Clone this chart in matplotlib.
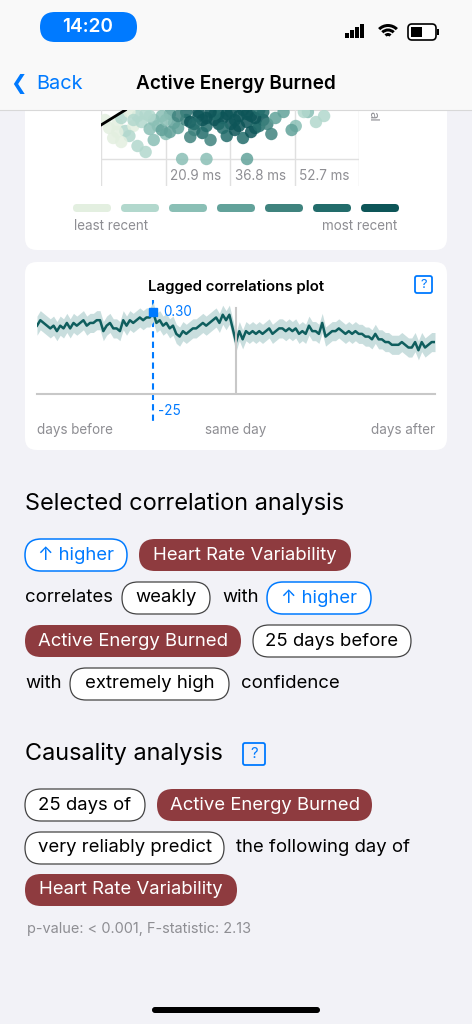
import numpy as np
import matplotlib.pyplot as plt
from matplotlib.patches import FancyBboxPatch, Rectangle, Wedge

plt.rcParams['font.family'] = ['Inter', 'DejaVu Sans']

# lagged correlation values for lags -60..60
lag_vals = [0.25, 0.27, 0.26, 0.25, 0.24, 0.25, 0.23, 0.25, 0.24, 0.26,
            0.24, 0.26, 0.25, 0.26, 0.27, 0.25, 0.26, 0.26, 0.27, 0.27,
            0.23, 0.25, 0.26, 0.24, 0.24, 0.23, 0.27, 0.25, 0.27, 0.26,
            0.27, 0.28, 0.27, 0.28, 0.28,
            0.30,
            0.26, 0.27, 0.25, 0.26, 0.24, 0.25, 0.22, 0.21, 0.23, 0.22,
            0.23, 0.24, 0.24, 0.25, 0.26, 0.25, 0.26, 0.27, 0.28, 0.26,
            0.29, 0.27, 0.29, 0.24,
            0.19,
            0.23, 0.20, 0.23, 0.22, 0.23, 0.22, 0.23, 0.22, 0.23, 0.24,
            0.22, 0.23, 0.24, 0.24, 0.23, 0.24, 0.23, 0.24, 0.22, 0.23,
            0.22, 0.25, 0.23, 0.23, 0.22, 0.26, 0.21, 0.22, 0.23, 0.23,
            0.24, 0.23, 0.22, 0.23, 0.22, 0.23, 0.22, 0.22, 0.21, 0.21,
            0.20, 0.22, 0.20, 0.20, 0.19, 0.19, 0.18, 0.18, 0.18, 0.19,
            0.18, 0.17, 0.17, 0.19, 0.16, 0.19, 0.17, 0.18, 0.19, 0.19]
lags = np.arange(len(lag_vals)) - 60
ci_half = 0.035
sel_lag, sel_val = -25, 0.30

# scatter (HRV ms vs. height), recency index 0..6
sc_x = [7, 9, 11, 13, 8, 12, 15, 17, 10, 14, 19, 21, 16, 23, 18, 20, 24, 26, 22, 27,
        29, 31, 28, 33, 35, 30, 37, 39, 32, 41, 43, 36, 45, 34, 38, 40, 42, 44, 46, 48,
        47, 50, 53, 56, 52, 58, 25, 31, 41, 60, 55,
        6, 10, 14, 18, 22, 26, 30, 34, 38, 42, 29, 33, 37, 41, 45, 27, 31, 35, 39, 43,
        24, 28, 32, 36, 40, 44, 20, 16, 12, 9, 13, 17, 21]
sc_y = [58, 62, 55, 60, 48, 50, 64, 57, 44, 40, 60, 52, 34, 63, 46, 56, 58, 66, 54, 49,
        70, 60, 56, 66, 68, 53, 62, 70, 46, 64, 58, 50, 66, 72, 56, 48, 54, 60, 62, 68,
        52, 74, 60, 74, 56, 64, 27, 27, 27, 70, 74,
        66, 68, 70, 66, 72, 74, 66, 62, 66, 70, 74, 72, 74, 72, 74, 64, 68, 58, 60, 68,
        70, 62, 74, 72, 76, 76, 70, 72, 74, 54, 66, 70, 66]
sc_c = [0, 0, 1, 0, 0, 1, 1, 2, 0, 1, 2, 2, 1, 3, 2, 3, 3, 4, 3, 4,
        5, 5, 4, 6, 6, 5, 6, 6, 4, 6, 5, 5, 6, 6, 6, 5, 6, 5, 4, 3,
        4, 3, 2, 2, 3, 1, 2, 2, 3, 1, 1,
        0, 1, 1, 2, 3, 5, 6, 6, 6, 6, 6, 5, 6, 6, 5, 6, 6, 5, 6, 6,
        4, 5, 6, 6, 6, 5, 2, 1, 0, 0, 1, 1, 2]
sc_ticks = [20.9, 36.8, 52.7]
recency = ['#E3EFE0', '#B2D8CD', '#8ABFB5', '#62A29A', '#3F837E', '#226C6B', '#0D5558']

BLUE = '#007AFF'
RED = '#8E3B3F'
GRAY = '#8E8E93'
TEAL = '#0F5E5E'

fig = plt.figure(figsize=(4.72, 10.24), dpi=100)
fig.patch.set_facecolor('#F2F2F7')
ax = fig.add_axes([0, 0, 1, 1])
ax.set_xlim(0, 472)
ax.set_ylim(1024, 0)
ax.axis('off')


def rbox(x0, y0, x1, y1, r, fc, ec='none', lw=1.0, z=1):
    ax.add_patch(FancyBboxPatch((x0, y0), x1 - x0, y1 - y0,
                                boxstyle=f'round,pad=0,rounding_size={r}',
                                fc=fc, ec=ec, lw=lw, zorder=z))


def px(s):
    return s * 0.72


# cards
rbox(25, 60, 447, 250, 12, 'white')
rbox(25, 262, 447, 450, 12, 'white')

# nav bar and status bar
ax.add_patch(Rectangle((0, 0), 472, 110, fc='#F9F9F9', ec='none', zorder=5))
ax.plot([0, 472], [110, 110], color='#D8D8D8', lw=0.8, zorder=6)
rbox(40, 12, 137, 42, 15, BLUE, z=6)
ax.text(88, 27, '14:20', color='white', fontsize=px(19), ha='center', va='center',
        fontweight='semibold', zorder=7)
for i, h in enumerate([5, 8, 11, 14]):
    ax.add_patch(Rectangle((345 + i * 5, 38 - h), 3.5, h, fc='black', zorder=7))
for r in [14, 9.5, 5]:
    ax.add_patch(Wedge((388, 38), r, 225, 315, width=3, fc='black', zorder=7))
rbox(408, 24, 436, 40, 4, 'white', ec='black', lw=1.2, z=7)
ax.add_patch(Rectangle((411, 27), 11, 10, fc='black', zorder=8))
ax.add_patch(Rectangle((437, 29), 2, 6, fc='black', zorder=8))
ax.text(10, 84, '\u276e', color=BLUE, fontsize=px(20), va='center', zorder=7)
ax.text(36, 84, 'Back', color=BLUE, fontsize=px(20), va='center', zorder=7)
ax.text(236, 84, 'Active Energy Burned', fontsize=px(19), ha='center', va='center',
        fontweight='semibold', zorder=7)

# scatter inset
sax = fig.add_axes([101 / 472, 1 - 186 / 1024, 258 / 472, 76 / 1024])
sax.set_xlim(5.0, 68.6)
sax.set_ylim(0, 76)
sax.axis('off')
for xv in [5.0] + sc_ticks + [68.6]:
    sax.axvline(xv, color='#E0E0E0', lw=1, zorder=0)
sax.axhline(27, color='#E0E0E0', lw=1, zorder=0)
sax.scatter(sc_x, sc_y, c=[recency[i] for i in sc_c], s=80, alpha=0.85, lw=0, zorder=2)
sax.plot([5.0, 11.0], [61, 76], color='black', lw=2, zorder=3)
for t in sc_ticks:
    sax.text(t + 1.2, 10, f'{t} ms', color=GRAY, fontsize=px(13.5), va='center')
ax.text(372, 116, 'al', color=GRAY, fontsize=px(13), rotation=-90, ha='center', va='center')

# recency legend
for i, c in enumerate(recency):
    cx = 92 + i * 48
    rbox(cx - 19, 204, cx + 19, 212, 4, c, z=2)
ax.text(74, 226, 'least recent', color=GRAY, fontsize=px(13.5), va='center')
ax.text(397, 226, 'most recent', color=GRAY, fontsize=px(13.5), va='center', ha='right')

# lagged correlations plot
ax.text(236, 287, 'Lagged correlations plot', fontsize=px(15), ha='center', va='center',
        fontweight='semibold')
rbox(415, 276, 432, 293, 2, 'none', ec=BLUE, lw=1.3)
ax.text(423.5, 284.5, '?', color=BLUE, fontsize=px(13), ha='center', va='center')
lax = fig.add_axes([37 / 472, 1 - 394 / 1024, 398 / 472, 94 / 1024])
lax.set_xlim(-60, 60)
lax.set_ylim(0, 94 * 0.30 / 82)
lax.axis('off')
lv = np.array(lag_vals)
lax.fill_between(lags, lv - ci_half, lv + ci_half, color='#C9DEDE', lw=0)
lax.plot(lags, lv, color=TEAL, lw=1.8)
lax.axvline(0, ymax=0.92, color='#C8C8C8', lw=1.5)
lax.axhline(0, color='#C8C8C8', lw=1.5, clip_on=False)
lax.plot([sel_lag], [sel_val], marker='s', color=BLUE, ms=6)
lax.text(sel_lag + 3, sel_val, f'{sel_val:.2f}', color=BLUE, fontsize=px(13.5), va='center')
ax.plot([153, 153], [300, 422], color=BLUE, lw=1.5, ls=(0, (3, 2)))
ax.text(158, 411, f'{sel_lag}', color=BLUE, fontsize=px(13.5), va='center')
ax.text(37, 430, 'days before', color=GRAY, fontsize=px(13.5), va='center')
ax.text(236, 430, 'same day', color=GRAY, fontsize=px(13.5), va='center', ha='center')
ax.text(435, 430, 'days after', color=GRAY, fontsize=px(13.5), va='center', ha='right')

# analysis text with chips
ax.text(25, 504, 'Selected correlation analysis', fontsize=px(23.5), va='center')
BODY = px(18.5)


def chip(x0, x1, y, label, kind):
    if kind == 'red':
        rbox(x0, y - 16, x1, y + 16, 16, RED)
        col = 'white'
    elif kind == 'blue':
        rbox(x0, y - 16, x1, y + 16, 16, 'white', ec=BLUE, lw=1.1)
        col = BLUE
    else:
        rbox(x0, y - 16, x1, y + 16, 16, 'white', ec='#444444', lw=0.9)
        col = 'black'
    ax.text((x0 + x1) / 2, y, label, color=col, fontsize=BODY, ha='center', va='center')


def word(x, y, label):
    ax.text(x, y, label, fontsize=BODY, va='center')


chip(25, 127, 555, '\u2191 higher', 'blue')
chip(139, 351, 555, 'Heart Rate Variability', 'red')
word(25, 598, 'correlates')
chip(122, 210, 598, 'weakly', 'plain')
word(222, 598, 'with')
chip(267, 371, 598, '\u2191 higher', 'blue')
chip(25, 241, 641, 'Active Energy Burned', 'red')
chip(253, 411, 641, '25 days before', 'plain')
word(25, 684, 'with')
chip(70, 229, 684, 'extremely high', 'plain')
word(241, 684, 'confidence')

ax.text(25, 754, 'Causality analysis', fontsize=px(23.5), va='center')
rbox(243, 743, 265, 765, 2, 'none', ec=BLUE, lw=1.3)
ax.text(254, 754, '?', color=BLUE, fontsize=px(15), ha='center', va='center')
chip(25, 145, 805, '25 days of', 'plain')
chip(157, 372, 805, 'Active Energy Burned', 'red')
chip(25, 224, 848, 'very reliably predict', 'plain')
word(236, 848, 'the following day of')
chip(25, 237, 890, 'Heart Rate Variability', 'red')
ax.text(27, 929, 'p-value: < 0.001, F-statistic: 2.13', color=GRAY, fontsize=px(14.5),
        va='center')

rbox(152, 1007, 320, 1013, 3, 'black')

fig.savefig('out.png', dpi=100, facecolor=fig.get_facecolor())
